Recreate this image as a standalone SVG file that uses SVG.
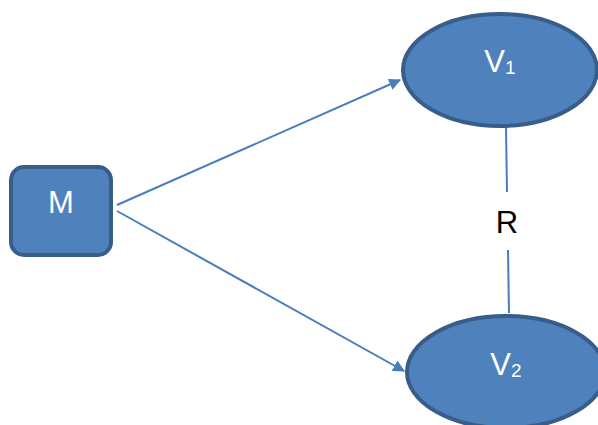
<svg xmlns="http://www.w3.org/2000/svg" width="598" height="425" viewBox="0 0 598 425">
<style>
.node{fill:#4f81bd;stroke:#385d8a;stroke-width:4}
.lbl{font-family:"Liberation Sans",Arial,sans-serif;font-size:31px;fill:#ffffff}
.sub{font-size:19px}
.conn{stroke:#4a7ebb;stroke-width:2;fill:none}
</style>
<defs>
<marker id="ah" viewBox="0 0 10 10" refX="9" refY="5" markerWidth="6" markerHeight="6" markerUnits="strokeWidth" orient="auto">
<path d="M0,0 L10,5 L0,10 z" fill="#4a7ebb"/>
</marker>
</defs>
<g id="connectors">
<line class="conn" x1="117" y1="205" x2="400" y2="80" marker-end="url(#ah)"/>
<line class="conn" x1="117" y1="211" x2="404" y2="371" marker-end="url(#ah)"/>
<line class="conn" x1="506" y1="128" x2="507" y2="192"/>
<line class="conn" x1="508" y1="250" x2="509" y2="313"/>
<text x="507" y="233" text-anchor="middle" font-family="'Liberation Sans',Arial,sans-serif" font-size="31" fill="#000">R</text>
</g>
<g id="M">
<rect class="node" x="11" y="167" width="100" height="88" rx="13"/>
<text class="lbl" x="61" y="213" text-anchor="middle">M</text>
</g>
<g id="V1">
<ellipse class="node" cx="500" cy="70" rx="97" ry="56"/>
<text class="lbl" x="500" y="72" text-anchor="middle">V<tspan class="sub" dy="2">1</tspan></text>
</g>
<g id="V2">
<ellipse class="node" cx="506" cy="372" rx="99" ry="56"/>
<text class="lbl" x="506" y="375" text-anchor="middle">V<tspan class="sub" dy="2">2</tspan></text>
</g>
</svg>
